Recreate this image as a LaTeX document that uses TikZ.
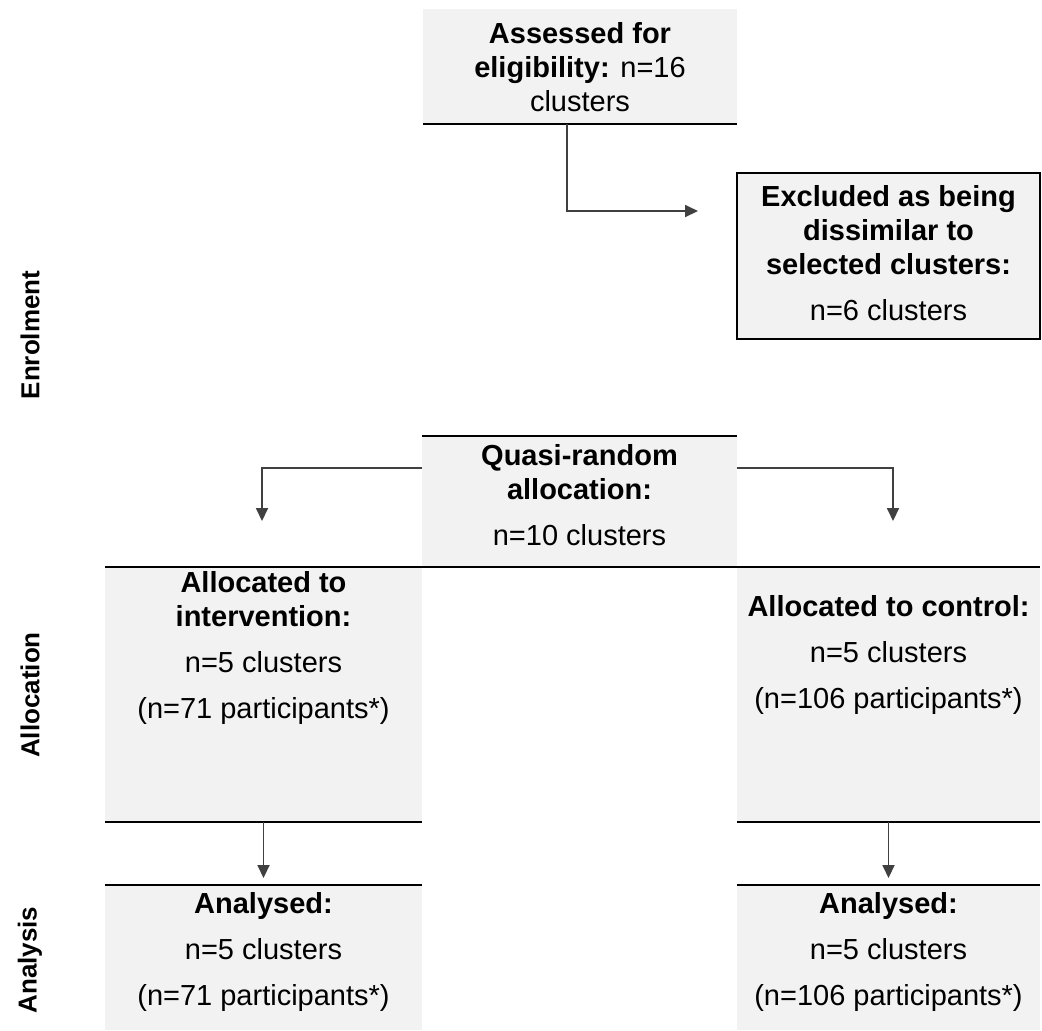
\documentclass[tikz,border=0pt]{standalone}
\usepackage{fontspec}
\setmainfont{Liberation Sans}
\usetikzlibrary{positioning,arrows.meta,fit,calc}
\definecolor{boxgray}{HTML}{F2F2F2}
\definecolor{arrowgray}{HTML}{404040}

\begin{document}
\begin{tikzpicture}[
  x=0.5pt, y=-0.5pt,
  box/.style={fill=boxgray, inner sep=0pt, outer sep=0pt},
  txt/.style={font=\fontsize{14.5}{17}\selectfont, align=center, inner sep=0pt, anchor=north},
  rule/.style={draw=black, line width=1pt},
  flow/.style={draw=arrowgray, line width=0.9pt, -{Triangle[length=6.5pt, width=6pt]}},
  phase/.style={font=\fontsize{13}{15}\selectfont\bfseries, rotate=90, inner sep=0pt}
]
\useasboundingbox (0,0) rectangle (1042,1030);

\node[box, fit={(423,9) (737,124)}] (assess) {};
\node[box, draw=black, line width=1pt, fit={(737,173) (1040,339)}] (excl) {};
\node[box, fit={(422,436) (737,567)}] (quasi) {};
\node[box, fit={(105,567) (422,822)}] (allocL) {};
\node[box, fit={(737,567) (1040,822)}] (allocR) {};
\node[box, fit={(105,885) (422,1030)}] (anaL) {};
\node[box, fit={(737,885) (1040,1030)}] (anaR) {};

\draw[rule] (assess.south west) -- (assess.south east);
\draw[rule] (quasi.north west) -- (quasi.north east);
\draw[rule] (allocL.north west) -- (allocR.north east);
\draw[rule] (allocL.south west) -- (allocL.south east);
\draw[rule] (allocR.south west) -- (allocR.south east);
\draw[rule] (anaL.north west) -- (anaL.north east);
\draw[rule] (anaR.north west) -- (anaR.north east);

\node[txt] (assesstxt) at ($(assess.north)+(0,13)$) {\textbf{Assessed for}\\\textbf{eligibility:} n=16\\clusters};
\node[txt] (excltxt) at ($(excl.north)+(0,12)$) {\textbf{Excluded as being}\\\textbf{dissimilar to}\\\textbf{selected clusters:}\\[6pt]n=6 clusters};
\node[txt] (quasitxt) at ($(quasi.north)+(0,8)$) {\textbf{Quasi-random}\\\textbf{allocation:}\\[6pt]n=10 clusters};
\node[txt] (allocLtxt) at ($(allocL.north)+(0,4)$) {\textbf{Allocated to}\\\textbf{intervention:}\\[6pt]n=5 clusters\\[6pt](n=71 participants*)};
\node[txt] (allocRtxt) at ($(allocR.north)+(0,28)$) {\textbf{Allocated to control:}\\[6pt]n=5 clusters\\[6pt](n=106 participants*)};
\node[txt] (anaLtxt) at ($(anaL.north)+(0,7)$) {\textbf{Analysed:}\\[6pt]n=5 clusters\\[6pt](n=71 participants*)};
\node[txt] (anaRtxt) at ($(anaR.north)+(0,7)$) {\textbf{Analysed:}\\[6pt]n=5 clusters\\[6pt](n=106 participants*)};

\node[phase] (enrol) at (30,335) {Enrolment};
\node[phase] (alloc) at (30,695) {Allocation};
\node[phase] (analysis) at (30,960) {Analysis};

% connectors
\coordinate (exclin) at (698,211);
\coordinate (qleft) at (262,521);
\coordinate (qright) at (893,521);
\draw[flow] ($(assess.south)+(-13,0)$) |- (exclin);
\draw[flow] ($(quasi.north west)+(0,32)$) -| (qleft);
\draw[flow] ($(quasi.north east)+(0,32)$) -| (qright);
\draw[flow] (allocL.south) -- ($(anaL.north)+(0,-7)$);
\draw[flow] (allocR.south) -- ($(anaR.north)+(0,-7)$);

\end{tikzpicture}
\end{document}
